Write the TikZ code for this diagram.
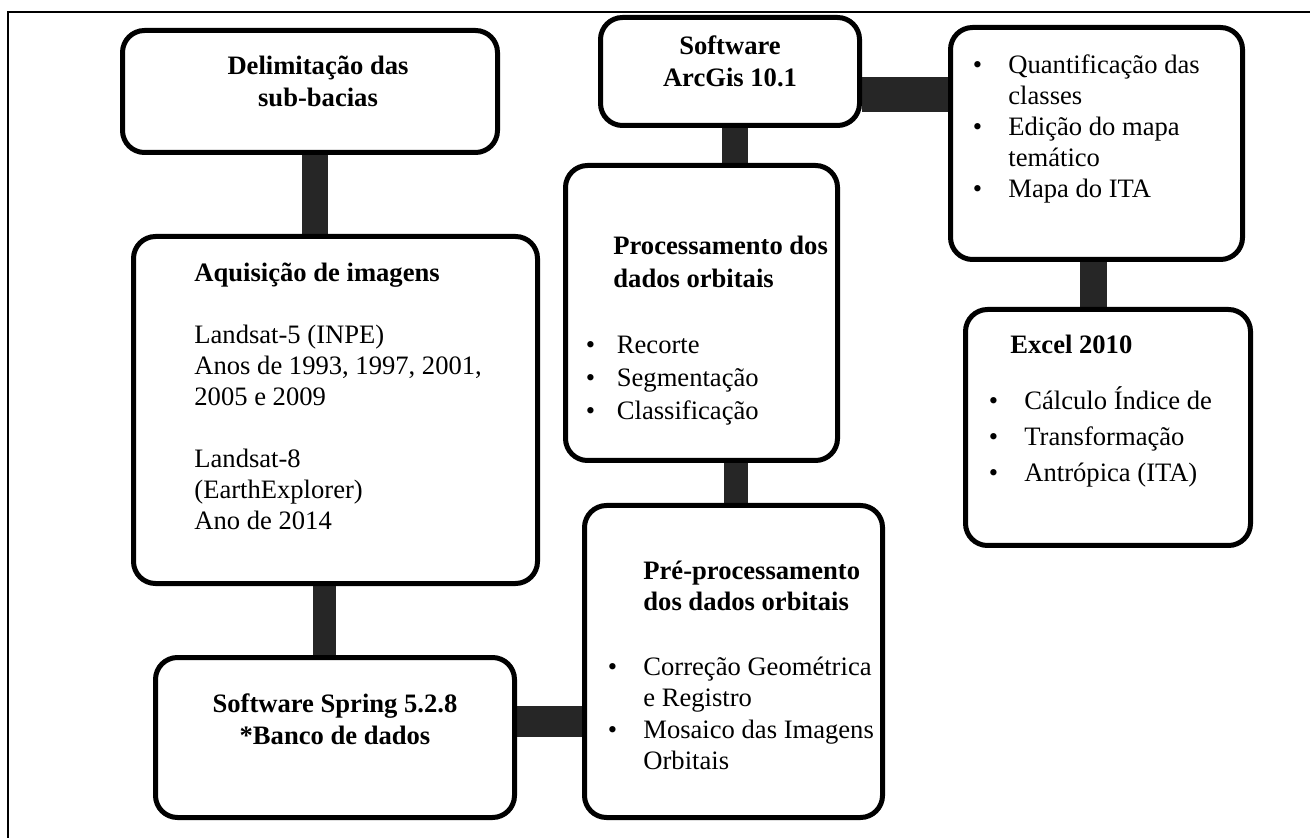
\documentclass[tikz,border=0pt]{standalone}
\usepackage{fontspec}
\setmainfont{Liberation Serif}
\usetikzlibrary{backgrounds}
\definecolor{barc}{HTML}{262626}
\newcommand{\fs}{\fontsize{13.3}{15.5}\selectfont}
\newcommand{\tl}[1]{\begin{tabular}[t]{@{}l@{}}#1\end{tabular}}
\newcommand{\tcc}[1]{\begin{tabular}[t]{@{}c@{}}#1\end{tabular}}
\newcommand{\bl}[2]{\begin{tabular}[t]{@{}p{#1}@{}l@{}}#2\end{tabular}}
\begin{document}
\begin{tikzpicture}[x=0.5pt,y=-0.5pt,
  box/.style={draw=black, line width=2.5pt, rounded corners=11pt, fill=white, inner sep=0pt},
  conn/.style={draw=barc, line width=13pt},
  txt/.style={inner sep=0pt, font=\fs, anchor=base west},
  ctxt/.style={inner sep=0pt, font=\fontsize{13.3}{16}\selectfont\bfseries, anchor=base}]
\useasboundingbox (0,0) rectangle (1310,838);
\draw[line width=1pt] (8,838) -- (8,12) -- (1310,12);

% boxes (outer edges in px: left-right, top-bottom)
\node[box, minimum width=187.5pt, minimum height=61pt] (delim) at (310,91.5) {};   % 120-500, 28-155
\node[box, minimum width=202pt, minimum height=173.5pt] (aq) at (335.5,410) {};   % 131-540, 234-586
\node[box, minimum width=179.5pt, minimum height=80pt] (spring) at (335,737.5) {}; % 153-517, 655-820
\node[box, minimum width=129.5pt, minimum height=54pt] (arc) at (730,71.5) {};    % 598-862, 15-128
\node[box, minimum width=136pt, minimum height=147.5pt] (proc) at (701.5,313) {};  % 563-840, 163-463
\node[box, minimum width=149pt, minimum height=156pt] (pre) at (733.5,661.5) {};   % 582-885, 503-820
\node[box, minimum width=146pt, minimum height=116pt] (quant) at (1096.5,143.5) {};% 948-1245, 25-262
\node[box, minimum width=142.5pt, minimum height=118pt] (excel) at (1108,427.5) {};% 963-1253, 307-548

% connectors
\begin{scope}[on background layer]
\draw[conn] (delim.south -| 315,0) -- (aq.north -| 315,0);
\draw[conn, line width=11.5pt] (aq.south -| 324,0) -- (spring.north -| 324,0);
\draw[conn, line width=15.5pt] (spring.east |- 0,721.5) -- (pre.west |- 0,721.5);
\draw[conn, line width=12pt] (proc.south -| 736,0) -- (pre.north -| 736,0);
\draw[conn] (arc.south -| 735,0) -- (proc.north -| 735,0);
\draw[conn, line width=17.5pt] (arc.east |- 0,94.5) -- (quant.west |- 0,94.5);
\draw[conn, line width=13.5pt] (quant.south -| 1093.5,0) -- (excel.north -| 1093.5,0);
\end{scope}

% texts
\node[ctxt] (tdelim) at (318,75) {\tcc{Delimitação das\\sub-bacias}};
\node[ctxt] (tarc) at (730,55) {\tcc{Software\\ArcGis 10.1}};
\node[ctxt] (tspring) at (335,712) {\tcc{Software Spring 5.2.8\\{*}Banco de dados}};

\node[txt] (taq) at (194,282) {\tl{\textbf{Aquisição de imagens}\\ \\ Landsat-5 (INPE)\\ Anos de 1993, 1997, 2001,\\ 2005 e 2009\\ \\ Landsat-8\\ (EarthExplorer)\\ Ano de 2014}};

\node[txt, font=\fontsize{13.3}{16.5}\selectfont\bfseries] (tproc) at (613,255) {\tl{Processamento dos\\ dados orbitais}};
\node[txt, font=\fontsize{13.3}{16.5}\selectfont] (bproc) at (585.5,354) {\bl{15.5pt}{\textbullet & Recorte\\ \textbullet & Segmentação\\ \textbullet & Classificação}};

\node[txt, font=\fontsize{13.3}{15.5}\selectfont\bfseries] (tpre) at (643,580) {\tl{Pré-processamento\\ dos dados orbitais}};
\node[txt, font=\fontsize{13.3}{15.75}\selectfont] (bpre) at (607.5,675) {\bl{17.75pt}{\textbullet & Correção Geométrica\\ & e Registro\\ \textbullet & Mosaico das Imagens\\ & Orbitais}};

\node[txt, font=\fontsize{13.3}{15.5}\selectfont] (bquant) at (972.5,74) {\bl{17.75pt}{\textbullet & Quantificação das\\ & classes\\ \textbullet & Edição do mapa\\ & temático\\ \textbullet & Mapa do ITA}};

\node[txt, font=\fontsize{13.3}{16}\selectfont\bfseries] (texcel) at (1010,354) {Excel 2010};
\node[txt, font=\fontsize{13.3}{18}\selectfont] (bexcel) at (988.5,410) {\bl{17.75pt}{\textbullet & Cálculo Índice de\\ \textbullet & Transformação\\ \textbullet & Antrópica (ITA)}};
\end{tikzpicture}
\end{document}
